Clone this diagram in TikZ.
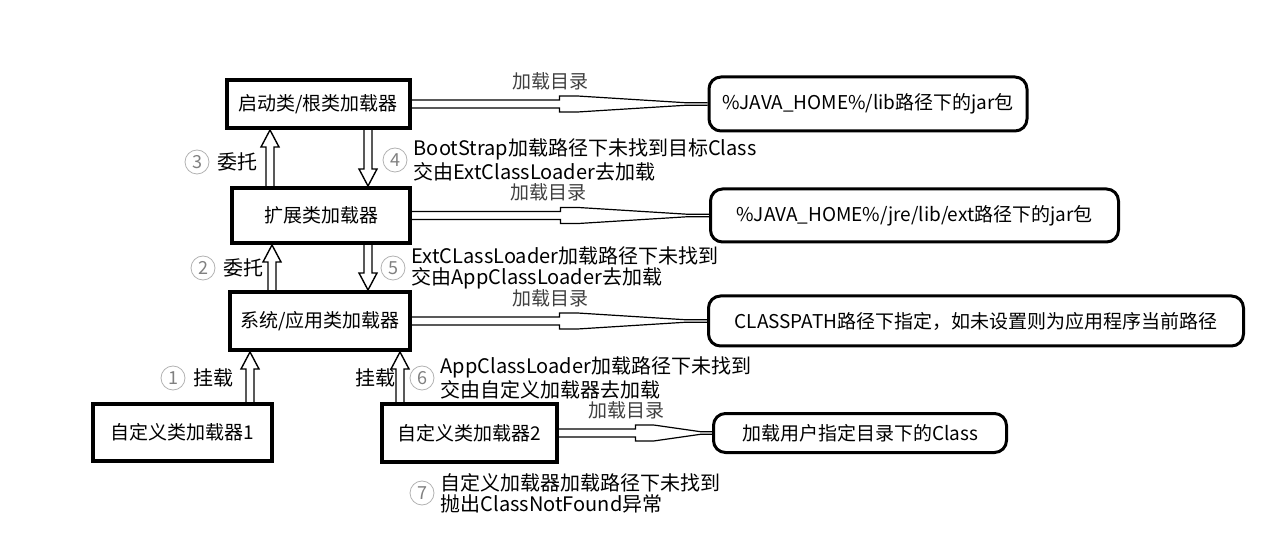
\documentclass[tikz,border=0pt]{standalone}
\usepackage{fontspec}
\setmainfont{Noto Sans CJK SC}
\usetikzlibrary{positioning,calc}
\tikzset{
    loader/.style={
        draw,
        line width=2pt,
        inner sep=2pt
    },
    dirbox/.style={
        draw,
        line width=1.5pt,
        rounded corners=6pt,
        inner xsep=4pt
    },
    dirline/.style={line width=0.6pt},
    holarr/.style={line width=0.7pt, line join=miter},
    stepno/.style={
        circle, draw=gray!60, text=gray, line width=0.4pt,
        minimum size=12pt, inner sep=0pt,
        font=\fontsize{9}{9}\selectfont
    },
    note/.style={align=left, inner sep=1pt, font=\fontsize{10}{10.5}\selectfont},
    dirlabel/.style={text=black!75, inner sep=1pt}
}
% double line with a flare, from a loader to its directory
\newcommand{\dirlink}[2]{%
    \draw[dirline] let \p1=(#1.east), \p2=(#2.west),
        \p3=($(\p1)!0.5!(\p2)$), \p4=($(\p1)!0.93!(\p2)$) in
        (\x1,\y1+2pt) -- (\x3,\y1+2pt) -- (\x3,\y1+4pt) -- (\x3+9pt,\y1+4pt) -- (\x4,\y1+0.6pt) -- (\x2,\y1+0.6pt)
        (\x1,\y1-2pt) -- (\x3,\y1-2pt) -- (\x3,\y1-4pt) -- (\x3+9pt,\y1-4pt) -- (\x4,\y1-0.6pt) -- (\x2,\y1-0.6pt);
}
% hollow arrow from #1 to #2
\newcommand{\holarrow}[2]{%
    \coordinate (hb) at ($(#2)!8.5pt!(#1)$);
    \draw[holarr] ($(#1)!2pt!90:(#2)$) -- ($(hb)!2pt!90:(#2)$) -- ($(hb)!4.5pt!90:(#2)$) -- (#2)
        -- ($(hb)!4.5pt!-90:(#2)$) -- ($(hb)!2pt!-90:(#2)$) -- ($(#1)!2pt!-90:(#2)$);
}

\begin{document}
\begin{tikzpicture}[x=0.5pt, y=-0.5pt, every node/.style={font=\fontsize{9.5}{10.5}\selectfont}]
    \useasboundingbox (0,0) rectangle (1275,545);

    % loaders
    \node[loader, minimum width=91.5pt, minimum height=24pt] (boot) at (318,104) {启动类/根类加载器};
    \node[loader, minimum width=89pt, minimum height=27.5pt] (ext) at (321,215.5) {扩展类加载器};
    \node[loader, minimum width=90pt, minimum height=29pt] (app) at (320,321) {系统/应用类加载器};
    \node[loader, minimum width=89.5pt, minimum height=28.5pt] (cus1) at (182.5,432.5) {自定义类加载器1};
    \node[loader, minimum width=87.5pt, minimum height=29pt] (cus2) at (469.5,433) {自定义类加载器2};

    % directories
    \node[dirbox, right=148pt of boot, minimum width=159pt, minimum height=27pt] (lib) {\%JAVA\_HOME\%/lib路径下的jar包};
    \node[dirbox, right=148.5pt of ext, minimum width=204pt, minimum height=26.5pt] (jre) {\%JAVA\_HOME\%/jre/lib/ext路径下的jar包};
    \node[dirbox, right=147.5pt of app, minimum width=267.5pt, minimum height=25pt] (cp) {CLASSPATH路径下指定，如未设置则为应用程序当前路径};
    \node[dirbox, right=76.5pt of cus2, minimum width=146.5pt, minimum height=19.5pt] (usr) {加载用户指定目录下的Class};

    % load directory links
    \dirlink{boot}{lib}
    \dirlink{ext}{jre}
    \dirlink{app}{cp}
    \dirlink{cus2}{usr}
    \node[dirlabel, above=6pt] at ($(boot.east)!0.47!(lib.west)$) {加载目录};
    \node[dirlabel, above=6pt] at ($(ext.east)!0.46!(jre.west)$) {加载目录};
    \node[dirlabel, above=6pt] at ($(app.east)!0.47!(cp.west)$) {加载目录};
    \node[dirlabel, above=6pt] at ($(cus2.east)!0.44!(usr.west)$) {加载目录};

    % arrow positions
    \coordinate (a3) at ([xshift=-24pt]boot.south);
    \coordinate (a4) at ([xshift=25pt]boot.south);
    \coordinate (a2) at ([xshift=-24.5pt]ext.south);
    \coordinate (a5) at ([xshift=23.5pt]ext.south);
    \coordinate (a1) at ([xshift=-35pt]app.south);
    \coordinate (a6) at ([xshift=40pt]app.south);
    \coordinate (a3s) at (a3 |- ext.north);
    \coordinate (a4t) at (a4 |- ext.north);
    \coordinate (a2s) at (a2 |- app.north);
    \coordinate (a5t) at (a5 |- app.north);
    \coordinate (a1s) at (a1 |- cus1.north);
    \coordinate (a6s) at (a6 |- cus2.north);

    \holarrow{a3s}{a3}
    \holarrow{a4}{a4t}
    \holarrow{a2s}{a2}
    \holarrow{a5}{a5t}
    \holarrow{a1s}{a1}
    \holarrow{a6s}{a6}

    % steps
    \node[stepno] (n3) at (197,162) {3};
    \node[note, right=3pt of n3] {委托};
    \node[stepno] (n4) at (395,160) {4};
    \node[note, right=2pt of n4] {BootStrap加载路径下未找到目标Class\\交由ExtClassLoader去加载};
    \node[stepno] (n2) at (203,268) {2};
    \node[note, right=3pt of n2] {委托};
    \node[stepno] (n5) at (393,268) {5};
    \node[note, right=2pt of n5] {ExtCLassLoader加载路径下未找到\\交由AppClassLoader去加载};
    \node[stepno] (n1) at (173,378) {1};
    \node[note, right=3pt of n1] {挂载};
    \node[stepno] (n6) at (422,378) {6};
    \node[note, left=6pt of n6] {挂载};
    \node[note, right=2pt of n6] {AppClassLoader加载路径下未找到\\交由自定义加载器去加载};
    \node[stepno] (n7) at (422,493) {7};
    \node[note, right=2pt of n7] {自定义加载器加载路径下未找到\\抛出ClassNotFound异常};
\end{tikzpicture}
\end{document}
